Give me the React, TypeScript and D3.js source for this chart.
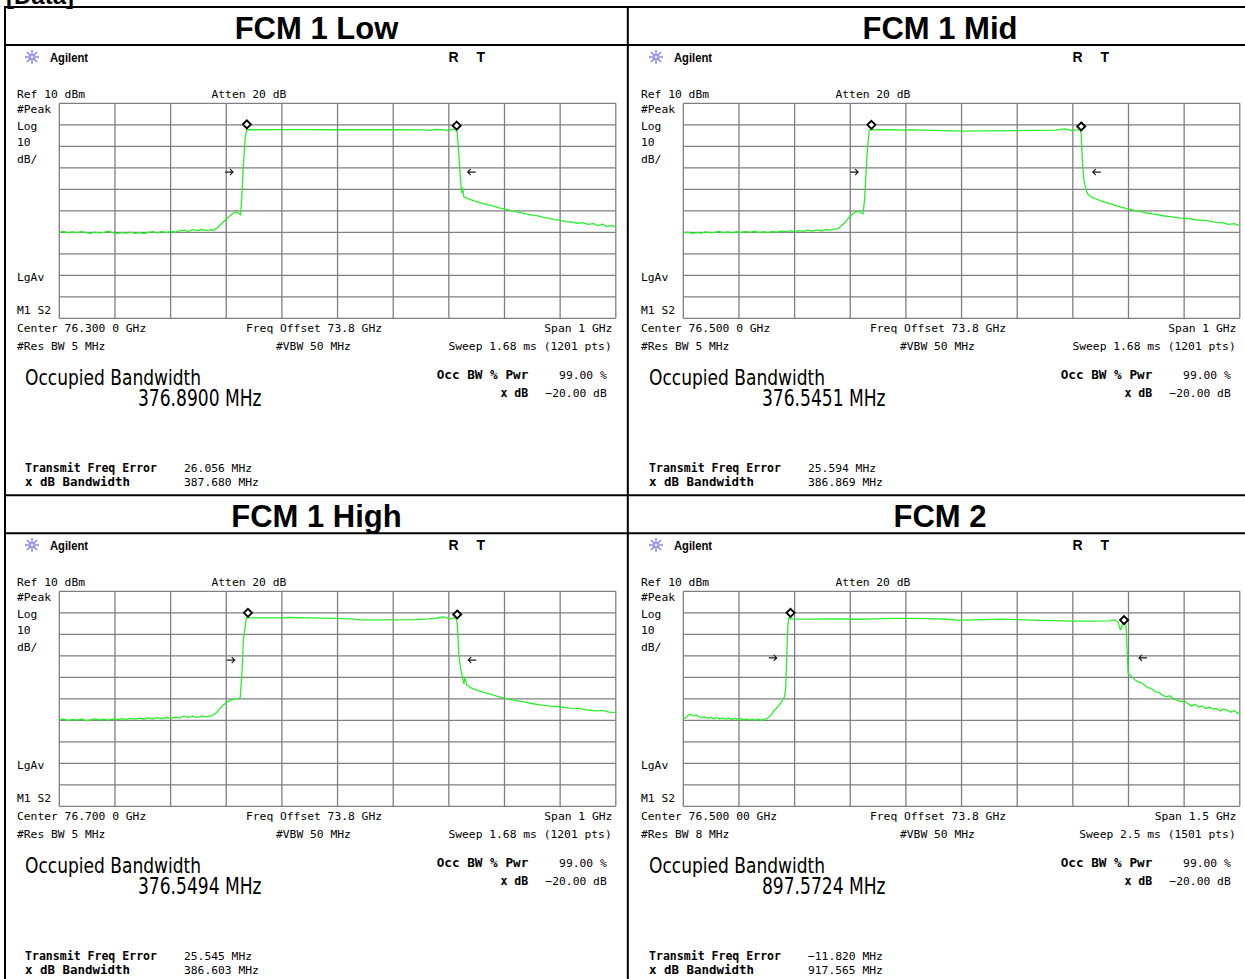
import React from "react";
import * as d3 from "d3";

type Pt = [number, number];

// Sweep traces: [frequency offset from centre (MHz), level (dBm)]
const traceLow: Pt[] = [
  [-500, -50.0], [-492, -49.6], [-484, -50.3], [-476, -49.8], [-468, -50.2], [-460, -49.7], [-452, -50.1], [-444, -50.5],
  [-436, -49.9], [-428, -50.3], [-420, -50.0], [-412, -49.5], [-404, -50.2], [-396, -50.6], [-388, -50.1], [-380, -50.4],
  [-372, -49.9], [-364, -50.5], [-356, -50.2], [-348, -50.6], [-340, -50.0], [-332, -49.7], [-324, -50.3], [-316, -49.6],
  [-308, -50.1], [-300, -49.5], [-292, -49.9], [-284, -49.3], [-276, -49.0], [-268, -49.6], [-260, -48.8], [-252, -49.2],
  [-244, -48.7], [-236, -49.1], [-228, -48.9], [-222, -49.0],
  [-216, -47.9], [-210, -46.4], [-204, -44.9], [-198, -43.5], [-192, -42.0], [-186, -40.9], [-181, -40.5], [-177, -41.3],
  [-174, -41.9], [-172, -33], [-169, -18], [-166, -6], [-163, -2.2],
  [-150, -2.3], [-100, -2.2], [-60, -2.2], [-20, -2.3], [40, -2.3], [100, -2.3], [150, -2.4], [168, -2.6], [176, -2.1],
  [186, -2.3], [196, -2.6], [206, -2.3], [212, -1.8],
  [215, -3.5], [218, -14], [221, -26], [223, -31.5], [225, -29.5], [227, -33.6], [232, -34.0], [240, -34.9], [250, -35.7],
  [260, -36.5], [270, -37.1], [280, -37.8], [290, -38.6], [300, -39.1], [310, -39.8], [320, -40.4], [330, -40.9],
  [340, -41.5], [350, -42.0], [360, -42.4], [370, -43.1], [380, -43.5], [390, -44.1], [400, -44.4], [410, -45.0],
  [420, -45.2], [430, -45.8], [440, -45.5], [450, -46.3], [460, -46.0], [468, -46.9], [476, -46.2], [484, -47.3],
  [492, -46.8], [500, -47.6],
];

const traceMid: Pt[] = [
  [-500, -50.3], [-492, -49.9], [-484, -50.5], [-476, -50.1], [-468, -50.4], [-460, -49.8], [-452, -50.2], [-444, -50.0],
  [-436, -49.6], [-428, -50.2], [-420, -49.8], [-412, -50.3], [-404, -49.7], [-396, -50.1], [-388, -49.6], [-380, -50.0],
  [-372, -49.5], [-364, -50.1], [-356, -49.7], [-348, -50.2], [-340, -49.6], [-332, -49.9], [-324, -49.4], [-316, -49.8],
  [-308, -49.3], [-300, -49.7], [-292, -49.2], [-284, -49.6], [-276, -49.0], [-268, -49.4], [-260, -48.9], [-252, -49.3],
  [-244, -48.7], [-236, -49.0], [-228, -48.5], [-222, -48.3],
  [-216, -47.0], [-210, -45.6], [-204, -43.6], [-198, -42.0], [-191, -40.6], [-186, -40.2], [-182, -40.9], [-177, -41.4],
  [-174, -34], [-172, -24], [-169, -11], [-166, -2.6],
  [-162, -2.3], [-121, -2.3], [-110, -2.5], [-88, -2.4], [-50, -2.6], [-18, -2.8], [2, -2.9], [40, -2.8], [100, -2.7],
  [169, -2.5], [178, -2.1], [185, -1.9], [192, -2.3], [198, -2.7], [207, -2.4], [212, -1.9],
  [215, -4.2], [217, -16.6], [220, -25.9], [224, -30.5], [227, -32.2], [233, -33.6], [241, -34.5], [249, -35.2],
  [257, -36.0], [265, -36.6], [281, -37.9], [297, -39.0], [313, -39.9], [330, -40.9], [346, -41.5], [362, -42.3],
  [378, -42.8], [394, -43.4], [410, -43.7], [426, -44.3], [442, -44.6], [458, -45.4], [470, -45.6], [480, -46.3],
  [490, -46.0], [500, -46.9],
];

const traceHigh: Pt[] = [
  [-500, -49.8], [-492, -49.4], [-484, -50.0], [-476, -49.6], [-468, -49.9], [-460, -49.5], [-452, -50.1], [-444, -49.8],
  [-436, -49.3], [-428, -49.8], [-420, -49.5], [-412, -49.9], [-404, -49.4], [-396, -49.7], [-388, -49.2], [-380, -49.6],
  [-372, -49.1], [-364, -49.5], [-356, -49.0], [-348, -49.4], [-340, -48.9], [-332, -49.3], [-324, -48.8], [-316, -49.2],
  [-308, -48.7], [-300, -49.1], [-292, -48.5], [-284, -48.9], [-276, -48.0], [-268, -48.6], [-260, -48.1], [-252, -48.7],
  [-244, -47.9], [-236, -48.4], [-228, -48.0], [-222, -47.4],
  [-216, -46.0], [-209, -43.9], [-203, -42.4], [-197, -41.3], [-190, -40.5], [-184, -40.2], [-178, -39.9], [-175, -39.5],
  [-172, -29], [-169, -12], [-164, -2.6],
  [-161, -2.4], [-120, -2.4], [-95, -2.3], [-87, -2.1], [-70, -2.3], [-54, -2.4], [0, -2.6], [30, -2.9], [40, -3.3],
  [80, -3.3], [140, -3.2], [160, -2.9], [174, -2.6], [182, -2.3], [190, -1.9], [196, -2.4], [202, -2.8], [208, -2.5],
  [212, -1.9],
  [215, -5], [217, -14], [218, -19.7], [221, -25.9], [225, -30.5], [227, -32.9], [229, -30.0], [232, -33.6], [240, -34.9],
  [250, -36.0], [260, -36.8], [270, -37.5], [286, -38.8], [302, -39.8], [318, -40.7], [335, -41.4], [351, -42.3],
  [367, -42.9], [383, -43.4], [400, -43.7], [416, -44.3], [432, -44.5], [448, -45.2], [464, -45.6], [476, -45.4],
  [488, -46.2], [500, -46.3],
];

const traceFcm2: Pt[] = [
  [-750, -49.3], [-743, -48.8], [-736, -47.6], [-729, -47.2], [-722, -48.0], [-715, -47.5], [-708, -48.3], [-700, -48.8],
  [-692, -48.4], [-684, -49.0], [-676, -48.6], [-668, -49.2], [-660, -48.7], [-652, -49.3], [-644, -48.9], [-636, -49.4],
  [-628, -49.0], [-620, -49.6], [-612, -49.1], [-604, -49.5], [-596, -49.2], [-588, -49.8], [-580, -49.3], [-572, -49.9],
  [-564, -49.4], [-556, -49.9], [-548, -49.5], [-540, -50.0], [-532, -49.6], [-524, -49.2],
  [-518, -48.4], [-512, -47.2], [-506, -45.6], [-500, -44.6], [-494, -43.5], [-488, -42.0], [-482, -40.6], [-477, -38.9],
  [-474, -35.2], [-472, -25], [-470, -14], [-468, -5.7], [-465, -2.2],
  [-462, -2.6], [-456, -2.9], [-400, -2.9], [-350, -2.8], [-277, -3.0], [-230, -2.8], [-181, -2.6], [-140, -2.6],
  [-84, -2.7], [-40, -3.0], [-9, -3.5], [30, -3.3], [60, -3.2], [107, -2.9], [150, -3.2], [205, -3.5], [250, -3.6],
  [301, -3.9], [350, -3.9], [398, -3.8], [412, -3.3], [418, -3.8], [422, -4.3], [426, -7.0], [429, -8.0], [432, -6.5],
  [435, -4.0], [438, -3.5],
  [442, -4.2], [444, -8], [446, -16.6], [448, -24], [449, -28.2], [455, -29.0], [460, -29.8], [466, -31.0], [474, -32.0],
  [483, -32.4], [493, -33.6], [502, -34.8], [512, -35.2], [522, -36.7], [532, -37.0], [542, -38.4], [552, -39.0],
  [562, -38.6], [572, -40.2], [581, -40.6], [591, -41.3], [600, -41.1], [610, -42.2], [620, -43.4], [629, -42.5],
  [639, -43.8], [648, -43.3], [658, -44.6], [668, -43.9], [678, -44.8], [687, -44.5], [697, -45.6], [706, -44.8],
  [716, -45.3], [726, -46.2], [736, -45.5], [744, -46.8], [750, -46.3],
];

// Occupied-bandwidth edge markers: [MHz offset, dBm]
const markersLow: Pt[] = [[-163, 0.2], [214, -0.4]];
const markersMid: Pt[] = [[-162, 0], [215, -0.8]];
const markersHigh: Pt[] = [[-161, 0], [215, -0.8]];
const markersFcm2: Pt[] = [[-461, 0], [438, -3.4]];

// x dB bandwidth arrows: [left MHz, right MHz, level dBm]
const arrowsLow = [-195, 241, -22];
const arrowsMid = [-193, 243, -22];
const arrowsHigh = [-192, 242, -22];
const arrowsFcm2 = [-509, 489, -21];

const panelTitles = ["FCM 1 Low", "FCM 1 Mid", "FCM 1 High", "FCM 2"];
const centerLabels = ["Center 76.300 0 GHz", "Center 76.500 0 GHz", "Center 76.700 0 GHz", "Center 76.500 00 GHz"];
const spansMHz = [1000, 1000, 1000, 1500];
const spanLabels = ["Span 1 GHz", "Span 1 GHz", "Span 1 GHz", "Span 1.5 GHz"];
const rbwLabels = ["#Res BW 5 MHz", "#Res BW 5 MHz", "#Res BW 5 MHz", "#Res BW 8 MHz"];
const sweepLabels = ["Sweep 1.68 ms (1201 pts)", "Sweep 1.68 ms (1201 pts)", "Sweep 1.68 ms (1201 pts)", "Sweep 2.5 ms (1501 pts)"];
const occBwValues = ["376.8900 MHz", "376.5451 MHz", "376.5494 MHz", "897.5724 MHz"];
const freqErrValues = ["26.056 MHz", "25.594 MHz", "25.545 MHz", "\u221211.820 MHz"];
const xdbBwValues = ["387.680 MHz", "386.869 MHz", "386.603 MHz", "917.565 MHz"];

const traces = [traceLow, traceMid, traceHigh, traceFcm2];
const markerSets = [markersLow, markersMid, markersHigh, markersFcm2];
const arrowSets = [arrowsLow, arrowsMid, arrowsHigh, arrowsFcm2];

const REF_DBM = 10;
const DB_PER_DIV = 10;
const DIVS = 10;

const MONO = "'DejaVu Sans Mono', monospace";
const SANS = "'Liberation Sans', Arial, sans-serif";
const NARROW = "'Liberation Sans Narrow', 'DejaVu Sans Condensed', 'Liberation Sans', sans-serif";

const GX0 = 59.3, GX1 = 615.8, GY0 = 103.3, GY1 = 318.3;
const COL_X = [0, 624, 0, 624];
const ROW_Y = [0, 0, 488, 488];
const TITLE_CX = [316.5, 940, 316.5, 940];
const TITLE_Y = [38.8, 38.8, 527.2, 527.2];

const GRID = "#7f7f7f";
const TRACE = "#2cef2c";

function Star({ cx, cy }: { cx: number; cy: number }) {
  const rays = d3.range(8).map((k) => (k * Math.PI) / 4);
  return (
    <g stroke="#5b5bf0" strokeWidth={1.1}>
      {rays.map((a, k) => (
        <line key={k} x1={cx + Math.cos(a) * 3} y1={cy + Math.sin(a) * 3} x2={cx + Math.cos(a) * 7} y2={cy + Math.sin(a) * 7} />
      ))}
      <rect x={cx - 2} y={cy - 2} width={4} height={4} fill="none" />
    </g>
  );
}

// Small horizontal arrow pointing right (dir = 1) or left (dir = -1)
function Arrow({ cx, cy, dir }: { cx: number; cy: number; dir: number }) {
  const tip = cx + 4 * dir;
  return (
    <path
      d={`M${cx - 4 * dir},${cy}L${tip},${cy}M${tip - 3 * dir},${cy - 3}L${tip},${cy}L${tip - 3 * dir},${cy + 3}`}
      fill="none"
      stroke="#1a1a1a"
      strokeWidth={1.2}
    />
  );
}

function Panel({ i }: { i: number }) {
  const ox = COL_X[i];
  const oy = ROW_Y[i];
  const half = spansMHz[i] / 2;
  const x = d3.scaleLinear().domain([-half, half]).range([GX0 + ox, GX1 + ox]);
  const y = d3.scaleLinear().domain([REF_DBM - DB_PER_DIV * DIVS, REF_DBM]).range([GY1 + oy, GY0 + oy]);
  const line = d3.line<Pt>().x((d) => x(d[0])).y((d) => y(d[1]));
  const xTicks = d3.range(DIVS + 1).map((k) => -half + (k * spansMHz[i]) / DIVS);
  const yTicks = d3.range(DIVS + 1).map((k) => REF_DBM - k * DB_PER_DIV);
  const [aL, aR, aLvl] = arrowSets[i];
  const t = (px: number) => px + ox;
  const v = (py: number) => py + oy;

  return (
    <g>
      <Star cx={t(32)} cy={v(57)} />
      <text x={t(50)} y={v(61.5)} fontFamily={SANS} fontWeight="bold" fontSize={13} textLength={38} lengthAdjust="spacingAndGlyphs">Agilent</text>
      <text x={t(448.5)} y={v(62)} fontFamily={SANS} fontSize={14} fontWeight={600}>R</text>
      <text x={t(476.5)} y={v(62)} fontFamily={SANS} fontSize={14} fontWeight={600}>T</text>

      <g fontFamily={MONO} fontSize={11.3} fill="#000">
        <text x={t(17)} y={v(97.5)}>Ref 10 dBm</text>
        <text x={t(211.5)} y={v(97.5)}>Atten 20 dB</text>
        <text x={t(17)} y={v(112.5)}>#Peak</text>
        <text x={t(17)} y={v(129.5)}>Log</text>
        <text x={t(17)} y={v(146)}>10</text>
        <text x={t(17)} y={v(163)}>dB/</text>
        <text x={t(17)} y={v(281)}>LgAv</text>
        <text x={t(17)} y={v(314)}>M1 S2</text>
        <text x={t(17)} y={v(331.5)}>{centerLabels[i]}</text>
        <text x={t(246)} y={v(331.5)}>Freq Offset 73.8 GHz</text>
        <text x={t(612.3)} y={v(331.5)} textAnchor="end">{spanLabels[i]}</text>
        <text x={t(17)} y={v(349.5)}>{rbwLabels[i]}</text>
        <text x={t(276)} y={v(349.5)}>#VBW 50 MHz</text>
        <text x={t(611.7)} y={v(349.5)} textAnchor="end">{sweepLabels[i]}</text>
        <text x={t(606.7)} y={v(379)} textAnchor="end">99.00 %</text>
        <text x={t(606.7)} y={v(396.7)} textAnchor="end">{"\u221220.00 dB"}</text>
        <text x={t(184)} y={v(471.7)}>{freqErrValues[i]}</text>
        <text x={t(184)} y={v(485.7)}>{xdbBwValues[i]}</text>
      </g>
      <g fontFamily={MONO} fontSize={11.6} fontWeight="bold" fill="#000">
        <text x={t(436.7)} y={v(379)} textLength={91.6} lengthAdjust="spacingAndGlyphs">Occ BW % Pwr</text>
        <text x={t(528.3)} y={v(396.7)} textAnchor="end">x dB</text>
        <text x={t(25)} y={v(471.7)} textLength={132} lengthAdjust="spacingAndGlyphs">Transmit Freq Error</text>
        <text x={t(25)} y={v(485.7)} textLength={105} lengthAdjust="spacingAndGlyphs">x dB Bandwidth</text>
      </g>
      <text x={t(25)} y={v(384.5)} fontFamily={NARROW} fontSize={22} textLength={176} lengthAdjust="spacingAndGlyphs">Occupied Bandwidth</text>
      <text x={t(138)} y={v(406)} fontFamily={NARROW} fontSize={23.5} textLength={123.5} lengthAdjust="spacingAndGlyphs">{occBwValues[i]}</text>

      {/* graticule */}
      <g stroke={GRID} strokeWidth={1.3}>
        {yTicks.map((d) => (
          <line key={"h" + d} x1={x(-half)} x2={x(half)} y1={y(d)} y2={y(d)} />
        ))}
        {xTicks.map((d) => (
          <line key={"v" + d} x1={x(d)} x2={x(d)} y1={y(REF_DBM)} y2={y(REF_DBM - DB_PER_DIV * DIVS)} />
        ))}
      </g>

      <path d={line(traces[i]) ?? ""} fill="none" stroke={TRACE} strokeWidth={1.3} strokeLinejoin="round" />

      {markerSets[i].map((m, k) => {
        const mx = x(m[0]);
        const my = y(m[1]);
        const r = 4;
        return (
          <path key={k} d={`M${mx},${my - r}L${mx + r},${my}L${mx},${my + r}L${mx - r},${my}Z`} fill="#fff" stroke="#000" strokeWidth={1.9} />
        );
      })}
      <Arrow cx={x(aL)} cy={y(aLvl)} dir={1} />
      <Arrow cx={x(aR)} cy={y(aLvl)} dir={-1} />
    </g>
  );
}

export default function App() {
  return (
    <svg width={1245} height={979} style={{ position: "absolute", left: 0, top: 0, background: "#fff" }}>
      <rect width={1245} height={979} fill="#fff" />
      <text x={6} y={3.5} fontFamily={SANS} fontWeight="bold" fontSize={24}>[Data]</text>

      {[0, 1, 2, 3].map((i) => (
        <Panel key={i} i={i} />
      ))}

      {panelTitles.map((s, i) => (
        <text key={s} x={TITLE_CX[i]} y={TITLE_Y[i]} textAnchor="middle" fontFamily={SANS} fontWeight="bold" fontSize={31}>
          {s}
        </text>
      ))}

      {/* table rules */}
      <g stroke="#000" strokeWidth={2}>
        <line x1={4} x2={1245} y1={7} y2={7} />
        <line x1={4} x2={1245} y1={45} y2={45} />
        <line x1={4} x2={1245} y1={495.2} y2={495.2} />
        <line x1={4} x2={1245} y1={533.2} y2={533.2} />
        <line x1={5} x2={5} y1={6} y2={979} />
        <line x1={627.8} x2={627.8} y1={6} y2={979} />
      </g>
    </svg>
  );
}
